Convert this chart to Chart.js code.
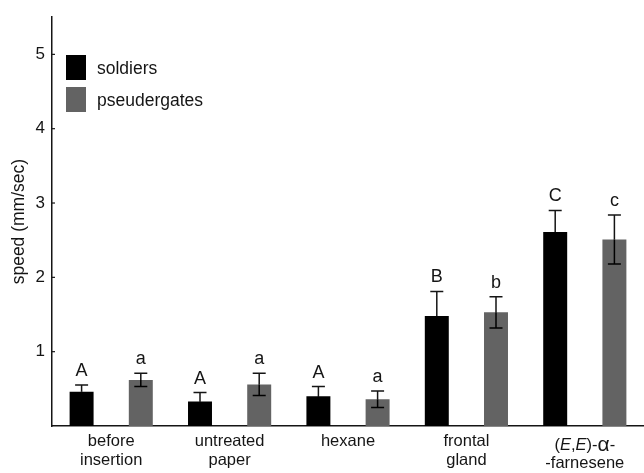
<!DOCTYPE html>
<html>
<head>
<meta charset="utf-8">
<script src="https://cdn.jsdelivr.net/npm/chart.js@4"></script>
<style>
  html, body { margin: 0; padding: 0; background: #fff; }
  #wrap { width: 644px; height: 473px; }
</style>
</head>
<body>
<div id="wrap"><canvas id="speed-chart"></canvas></div>
<script>
// categories, *x* marks italic text
const categories = [
  ['before', 'insertion'],
  ['untreated', 'paper'],
  ['hexane'],
  ['frontal', 'gland'],
  ['(*E*,*E*)-α-', '-farnesene']
];
const seriesNames = ['soldiers', 'pseudergates'];
const soldiers = [0.46, 0.33, 0.40, 1.48, 2.61];
const soldiersErr = [0.09, 0.12, 0.13, 0.33, 0.29];
const pseudergates = [0.62, 0.56, 0.36, 1.53, 2.51];
const pseudergatesErr = [0.09, 0.15, 0.11, 0.21, 0.33];
const soldiersLetters = ['A', 'A', 'A', 'B', 'C'];
const pseudergatesLetters = ['a', 'a', 'a', 'b', 'c'];
const yTicks = [1, 2, 3, 4, 5];

const FONT = '"Liberation Sans", Arial, sans-serif';
const INK = '#151515';
const colors = ['#000000', '#636363'];
const errors = [soldiersErr, pseudergatesErr];
const letters = [soldiersLetters, pseudergatesLetters];

// font for a label piece: italic for *..*, bigger alpha
function pieceFont(p, italic) {
  const size = p === 'α' ? 21 : 16.5;
  return (italic ? 'italic ' : '') + size + 'px ' + FONT;
}

const extrasPlugin = {
  id: 'extras',
  afterDatasetsDraw(chart) {
    const ctx = chart.ctx;
    const y = chart.scales.y;
    const x = chart.scales.x;
    ctx.save();

    // error bars and group letters
    chart.data.datasets.forEach((ds, di) => {
      const meta = chart.getDatasetMeta(di);
      meta.data.forEach((bar, i) => {
        const v = ds.data[i];
        const e = errors[di][i];
        const yHi = y.getPixelForValue(v + e);
        const yMid = y.getPixelForValue(v);
        const yLo = y.getPixelForValue(v - e);
        ctx.lineWidth = 1.5;
        ctx.strokeStyle = INK;
        ctx.beginPath();
        ctx.moveTo(bar.x, yMid);
        ctx.lineTo(bar.x, yHi);
        ctx.moveTo(bar.x - 6.5, yHi);
        ctx.lineTo(bar.x + 6.5, yHi);
        ctx.stroke();
        ctx.strokeStyle = '#000';
        ctx.beginPath();
        ctx.moveTo(bar.x, yMid);
        ctx.lineTo(bar.x, yLo);
        ctx.moveTo(bar.x - 6.5, yLo);
        ctx.lineTo(bar.x + 6.5, yLo);
        ctx.stroke();

        ctx.fillStyle = INK;
        ctx.font = '18px ' + FONT;
        ctx.textAlign = 'center';
        ctx.textBaseline = 'alphabetic';
        ctx.fillText(letters[di][i], bar.x, yHi - 9);
      });
    });

    // inward ticks on the y axis
    ctx.strokeStyle = INK;
    ctx.lineWidth = 1.2;
    yTicks.forEach(t => {
      const py = y.getPixelForValue(t);
      ctx.beginPath();
      ctx.moveTo(y.right, py);
      ctx.lineTo(y.right + 3, py);
      ctx.stroke();
    });

    // category labels (with italic parts)
    ctx.textBaseline = 'middle';
    ctx.fillStyle = INK;
    categories.forEach((lines, i) => {
      const cx = x.getPixelForValue(i);
      const special = lines[0].indexOf('*') >= 0;
      lines.forEach((line, li) => {
        const py = (special ? 445 : 441) + li * (special ? 18 : 19);
        const parts = [];
        line.split('*').forEach((p, pi) => {
          p.split(/(α)/).forEach(q => { if (q) parts.push([q, pi % 2 === 1]); });
        });
        let total = 0;
        parts.forEach(([p, it]) => {
          ctx.font = pieceFont(p, it);
          total += ctx.measureText(p).width;
        });
        let px = cx - total / 2;
        ctx.textAlign = 'left';
        parts.forEach(([p, it]) => {
          ctx.font = pieceFont(p, it);
          ctx.fillText(p, px, py);
          px += ctx.measureText(p).width;
        });
      });
    });

    // legend
    chart.data.datasets.forEach((ds, di) => {
      const top = 55 + di * 32;
      ctx.fillStyle = ds.backgroundColor;
      ctx.fillRect(66, top, 20, 25);
      ctx.fillStyle = INK;
      ctx.font = '17.5px ' + FONT;
      ctx.textAlign = 'left';
      ctx.textBaseline = 'middle';
      ctx.fillText(ds.label, 97, top + 14);
    });

    ctx.restore();
  }
};

const ctx = document.getElementById('speed-chart').getContext('2d');
new Chart(ctx, {
  type: 'bar',
  data: {
    labels: categories.map(c => c.join(' ').replace(/\*/g, '')),
    datasets: [
      { label: seriesNames[0], data: soldiers, backgroundColor: colors[0], borderWidth: 0 },
      { label: seriesNames[1], data: pseudergates, backgroundColor: colors[1], borderWidth: 0 }
    ]
  },
  options: {
    responsive: true,
    maintainAspectRatio: false,
    animation: false,
    layout: { padding: { top: 13, left: 0, right: 0, bottom: 0 } },
    datasets: { bar: { categoryPercentage: 1.0, barPercentage: 0.405 } },
    plugins: {
      legend: { display: false },
      tooltip: { enabled: false }
    },
    scales: {
      x: {
        grid: { display: false },
        border: { display: true, color: INK, width: 1.5 },
        ticks: { display: false },
        afterFit: s => { s.height = 47; }
      },
      y: {
        min: 0,
        max: 5.5,
        grid: { display: false, drawTicks: false },
        border: { display: true, color: INK, width: 1.5 },
        ticks: {
          stepSize: 1,
          padding: 7,
          color: INK,
          font: { family: FONT, size: 17 },
          callback: v => yTicks.includes(v) ? String(v) : ''
        },
        title: {
          display: true,
          text: 'speed (mm/sec)',
          color: INK,
          font: { family: FONT, size: 17.5 },
          padding: { top: 9, bottom: 0 }
        },
        afterFit: s => { s.width = 52; }
      }
    }
  },
  plugins: [extrasPlugin]
});
</script>
</body>
</html>
